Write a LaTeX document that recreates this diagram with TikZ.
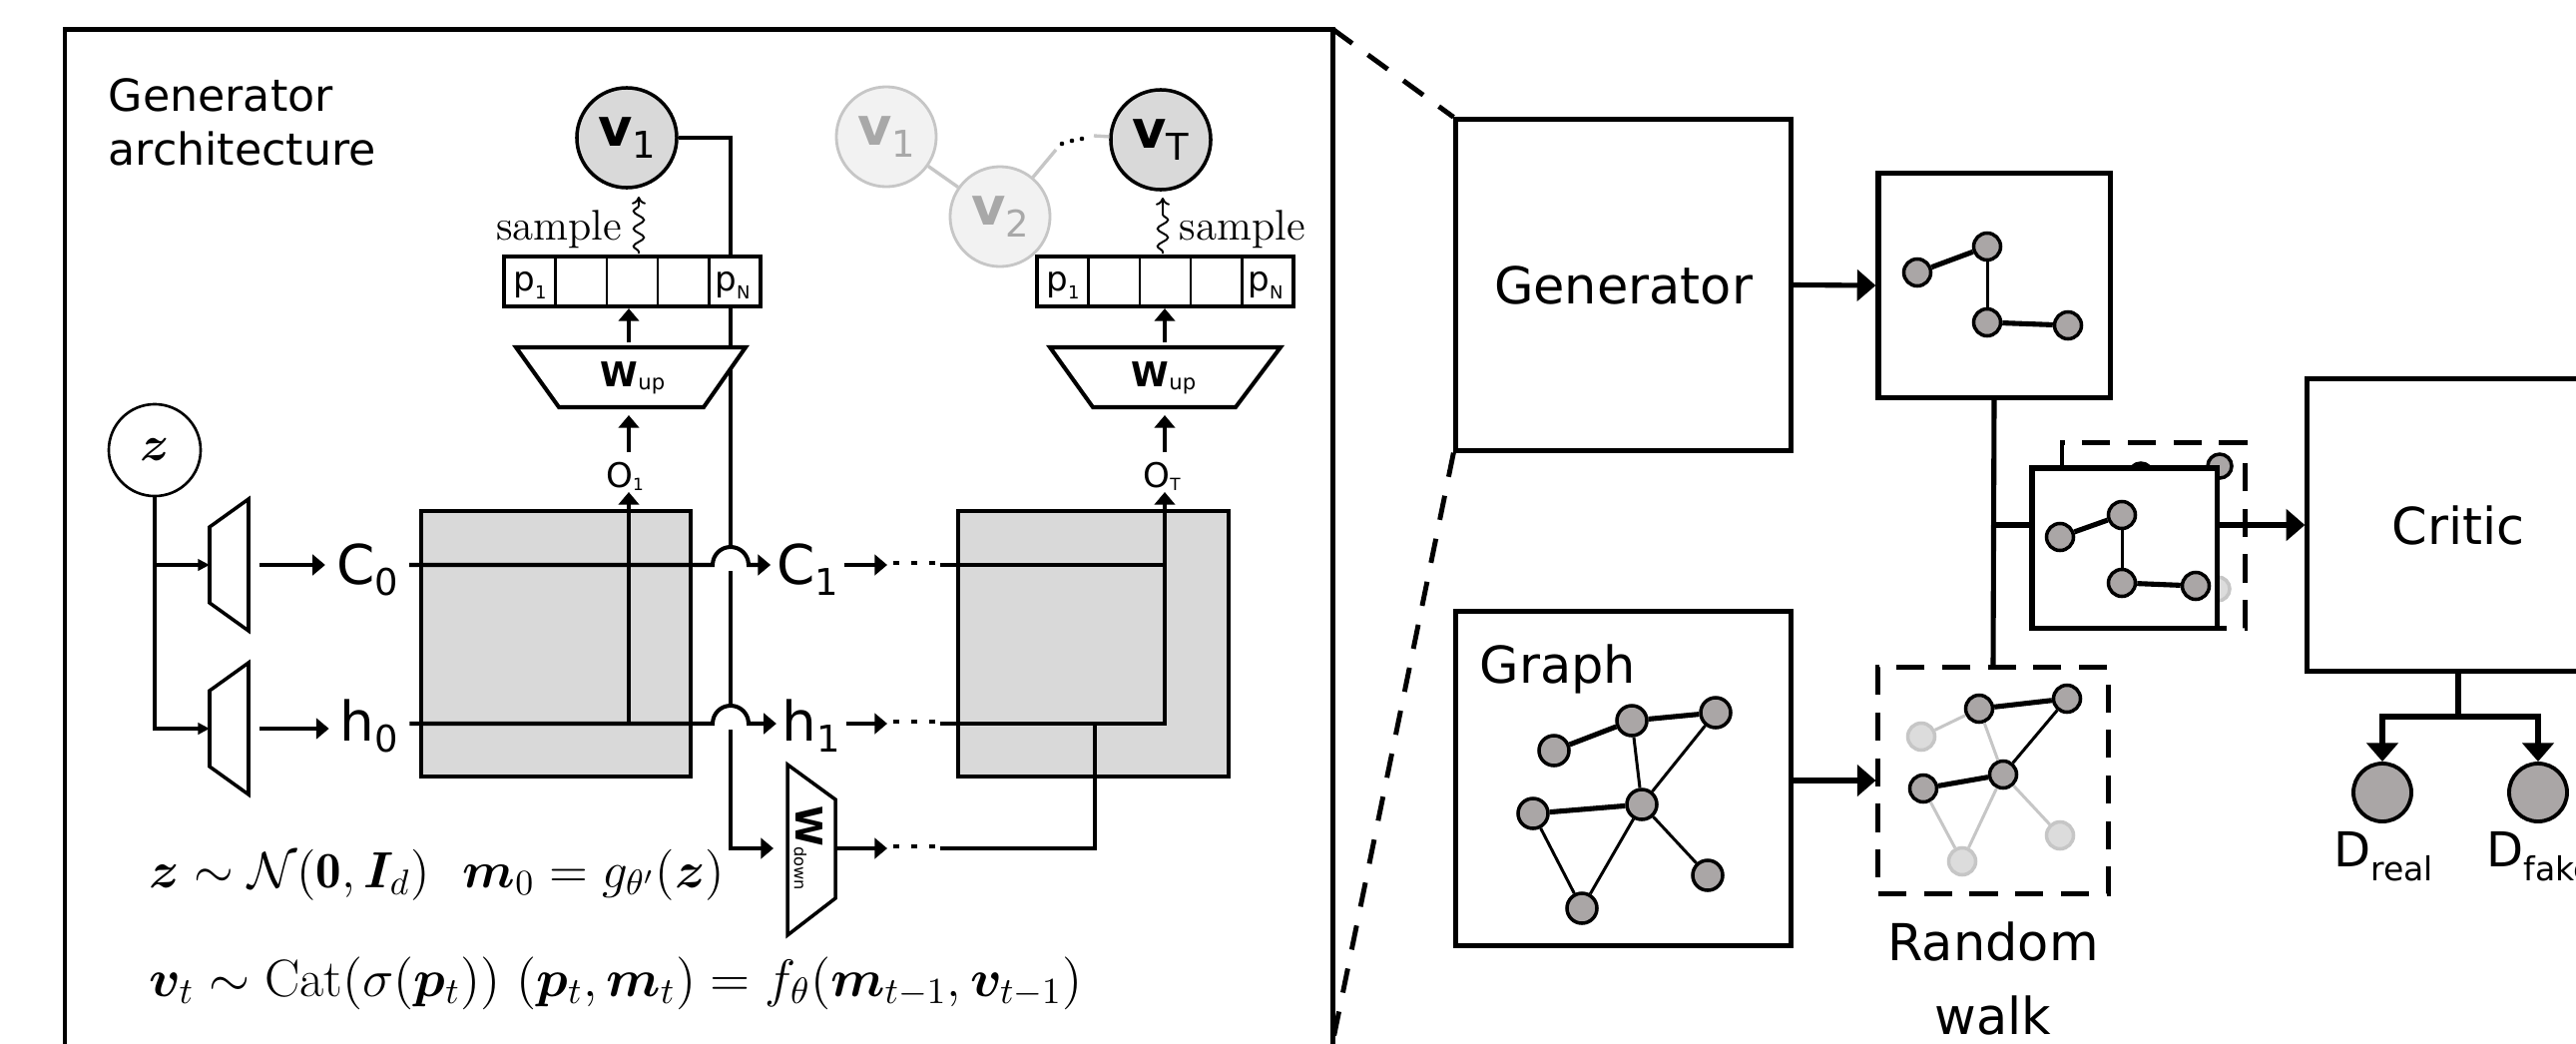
\RequirePackage{fix-cm}
\documentclass[tikz,border=0pt]{standalone}
\usepackage{amsmath}
\usepackage{bm}
\usepackage{fontspec}
\newfontfamily\dv{DejaVu Sans}
\usetikzlibrary{arrows.meta,decorations.pathmorphing}

\definecolor{cellgray}{RGB}{217,217,217}
\definecolor{dotgray}{RGB}{170,166,166}
\definecolor{paleline}{RGB}{198,198,198}
\definecolor{palefill}{RGB}{242,242,242}
\definecolor{paletext}{RGB}{168,168,168}
\definecolor{palenode}{RGB}{220,220,220}

% sans letter followed by a smaller, lowered subscript
\newcommand{\slbl}[5]{{\dv\fontsize{#1}{#1}\selectfont #2}{\dv\fontsize{#3}{#3}\selectfont\raisebox{-#5}{#4}}}

\begin{document}
\begin{tikzpicture}[x=0.01cm, y=-0.01cm,
  outerframe/.style={line width=1.42pt},
  wire/.style={line width=1.15pt},
  finewire/.style={line width=1pt},
  arr/.style={-{Triangle[length=3.6pt,width=5.8pt]}},
  smallarr/.style={-{Triangle[length=3.3pt,width=3.2pt]}},
  bigarr/.style={-{Triangle[length=5.3pt,width=8.8pt]}},
  dots3/.style={line width=1.15pt, dash pattern=on 1.7pt off 3.4pt},
  panel/.style={draw, line width=1.45pt, fill=white, inner sep=0pt},
  dpanel/.style={draw, line width=1.4pt, dash pattern=on 8pt off 5pt, inner sep=0pt},
  zoomline/.style={line width=1.4pt, dash pattern=on 7pt off 5.5pt},
  rlab/.style={font=\dv\fontsize{14.5pt}{17pt}\selectfont},
  vnode/.style={circle, draw, line width=1pt, fill=cellgray, minimum size=1cm, inner sep=0pt},
  palev/.style={circle, draw=paleline, line width=0.8pt, fill=palefill, minimum size=1cm, inner sep=0pt, text=paletext},
  gn/.style={circle, draw, line width=1pt, fill=dotgray, minimum size=0.27cm, inner sep=0pt},
  pn/.style={circle, draw=paleline, line width=1pt, fill=palenode, minimum size=0.27cm, inner sep=0pt},
  heavyedge/.style={line width=1.45pt},
  lightedge/.style={line width=0.85pt},
  paleedge/.style={line width=0.85pt, draw=paleline},
  snakearr/.style={line width=0.55pt, -{To[length=2.2pt,width=4pt]}, decorate,
    decoration={snake, amplitude=1.5pt, segment length=5pt, pre length=0.5pt, post length=2.5pt}},
  celllab/.style={anchor=base, inner sep=0pt},
]
\useasboundingbox (0,0) rectangle (2581,1045);
\clip (0,0) rectangle (2581,1045);
\fill[white] (0,0) rectangle (2581,1045);

% ================= generator architecture panel =================
\coordinate (fr-nw) at (65,29);
\coordinate (fr-ne) at (1335,29);
\coordinate (fr-se) at (1330,1070);
\draw[outerframe] (65,1100) -- (fr-nw) -- (fr-ne) -- (1335,1100);

\node[anchor=base west, inner sep=0pt, font=\dv\fontsize{12.6pt}{15pt}\selectfont] (ttl1) at (108,111) {Generator};
\node[anchor=base west, inner sep=0pt, font=\dv\fontsize{12.6pt}{15pt}\selectfont] (ttl2) at (108,165) {architecture};

% sampled walk nodes
\node[vnode] (v1) at (628,138) {\slbl{15pt}{\bfseries v}{10.5pt}{1}{3.4pt}};
\node[palev] (g1) at (888,137) {\slbl{15pt}{\bfseries v}{10.5pt}{1}{3.4pt}};
\node[palev] (g2) at (1002,217) {\slbl{15pt}{\bfseries v}{10.5pt}{2}{3.4pt}};
\node[vnode] (vT) at (1163,140) {\slbl{15pt}{\bfseries v}{10.5pt}{T}{3.4pt}};
\coordinate (gc1) at (1058,150);
\coordinate (gc2) at (1096,136);
\draw[line width=0.95pt, paleline] (g1) -- (g2);
\draw[line width=0.95pt, paleline] (g2) -- (gc1);
\draw[line width=0.95pt, paleline] (gc2) -- (vT);
\fill (1064,144) circle[radius=0.65pt];
\fill (1074,141) circle[radius=0.65pt];
\fill (1084,139) circle[radius=0.65pt];

% feedback of the sampled node into the next step
\coordinate (fbC) at (732,548);
\coordinate (fbC2) at (732,572);
\coordinate (fbH) at (732,707);
\coordinate (fbH2) at (732,731);
\coordinate (wdin) at (775,850);
\draw[finewire] (v1.east) -| (fbC);
\draw[finewire] (fbC2) -- (fbH);
\draw[finewire, arr] (fbH2) |- (wdin);

% LSTM cells
\node[draw, line width=1.15pt, fill=cellgray, minimum width=2.70cm, minimum height=2.66cm, inner sep=0pt] (cell1) at (557,645) {};
\node[draw, line width=1.15pt, fill=cellgray, minimum width=2.71cm, minimum height=2.66cm, inner sep=0pt] (cell2) at (1095.5,645) {};

% probability vectors
\node[draw, line width=1.15pt, fill=white, minimum width=2.57cm, minimum height=0.5cm, inner sep=0pt] (vec1) at (633.5,282) {};
\node[draw, line width=1.15pt, fill=white, minimum width=2.57cm, minimum height=0.5cm, inner sep=0pt] (vec2) at (1167.5,282) {};
\foreach \xx in {556.4,607.8,659.2,710.6} \draw[line width=0.7pt] (\xx,257) -- (\xx,307);
\foreach \xx in {1090.4,1141.8,1193.2,1244.6} \draw[line width=0.7pt] (\xx,257) -- (\xx,307);
\node[celllab] (p11) at (531,291) {\slbl{9.7pt}{p}{5.1pt}{1}{2.5pt}};
\node[celllab] (p1N) at (734,291) {\slbl{9.7pt}{p}{5.1pt}{N}{2.5pt}};
\node[celllab] (p21) at (1065,291) {\slbl{9.7pt}{p}{5.1pt}{1}{2.5pt}};
\node[celllab] (p2N) at (1268,291) {\slbl{9.7pt}{p}{5.1pt}{N}{2.5pt}};

% sampling
\coordinate (s1a) at (640,254);
\coordinate (s1b) at (640,197);
\coordinate (s2a) at (1165,254);
\coordinate (s2b) at (1165,198);
\draw[snakearr] (s1a) -- (s1b);
\draw[snakearr] (s2a) -- (s2b);
\node[anchor=base east, inner sep=0pt, font=\fontsize{12.2pt}{14pt}\selectfont] (smp1) at (624,240) {sample};
\node[anchor=base west, inner sep=0pt, font=\fontsize{12.2pt}{14pt}\selectfont] (smp2) at (1181,240) {sample};

% up-projections
\draw[wire, fill=white] (517,348) -- (747,348) -- (705,408) -- (560,408) -- cycle;
\draw[wire, fill=white] (1052,348) -- (1283,348) -- (1238,408) -- (1095,408) -- cycle;
\node[celllab] (wu1) at (634,387) {\slbl{9.7pt}{\bfseries W}{6pt}{up}{1pt}};
\node[celllab] (wu2) at (1166,387) {\slbl{9.7pt}{\bfseries W}{6pt}{up}{1pt}};
\coordinate (wu1t) at (630,343);
\coordinate (wu2t) at (1167,343);
\draw[wire, arr] (wu1t) -- (vec1.south -| wu1t);
\draw[wire, arr] (wu2t) -- (vec2.south -| wu2t);

% outputs
\node[anchor=base, inner sep=0.6pt] (o1) at (626,488) {\slbl{9.7pt}{O}{4.8pt}{1}{0.9pt}};
\node[anchor=base, inner sep=0.6pt] (oT) at (1164,488) {\slbl{9.7pt}{O}{4.8pt}{T}{0.9pt}};
\coordinate (o1t) at (630,453);
\coordinate (wu1b) at (630,416);
\coordinate (oTt) at (1167,453);
\coordinate (wu2b) at (1167,416);
\draw[wire, arr] (o1t) -- (wu1b);
\draw[wire, arr] (oTt) -- (wu2b);

% noise input and initial state
\node[circle, draw, line width=0.75pt, minimum size=0.92cm, inner sep=0pt] (z) at (155,451) {\fontsize{14pt}{14pt}\selectfont$\boldsymbol{z}$};
\draw[finewire, fill=white] (210,528) -- (249,500) -- (249,632) -- (210,604) -- cycle;
\draw[finewire, fill=white] (210,692) -- (249,664) -- (249,796) -- (210,768) -- cycle;
\coordinate (zc) at (155,566);
\coordinate (tcin) at (210,566);
\coordinate (hin) at (210,730);
\coordinate (tcout) at (260,566);
\coordinate (hout) at (260,730);
\draw[finewire, smallarr] (z.south) |- (hin);
\draw[finewire, smallarr] (zc) -- (tcin);

\node[anchor=base, inner sep=3pt] (c0) at (368,585) {\slbl{15.6pt}{C}{10.5pt}{0}{3.4pt}};
\node[anchor=base, inner sep=3pt] (h0) at (370,742) {\slbl{15.6pt}{h}{10.5pt}{0}{3.4pt}};
\node[anchor=base, inner sep=1.5pt] (c1) at (809,585) {\slbl{15.6pt}{C}{10.5pt}{1}{3.4pt}};
\node[anchor=base, inner sep=1.5pt] (h1) at (813,742) {\slbl{15.6pt}{h}{10.5pt}{1}{3.4pt}};
\draw[wire, arr] (tcout) -- (c0.west |- tcout);
\draw[wire, arr] (hout) -- (h0.west |- hout);

% state lines through the first cell, hopping over the feedback line
\coordinate (crow) at (400,566);
\coordinate (hrow) at (400,725);
\draw[wire, arr] (c0.east |- crow) -- (714,566) arc[start angle=180, end angle=360, radius=18] -- (c1.west |- crow);
\draw[wire, arr] (h0.east |- hrow) -- (714,725) arc[start angle=180, end angle=360, radius=18] -- (h1.west |- hrow);
\coordinate (h0o) at (630,725);
\coordinate (o1b) at (630,493);
\draw[finewire, arr] (h0o) -- (o1b);

% on to the last step
\coordinate (cd1) at (889,566);
\coordinate (hd1) at (889,725);
\draw[wire, arr] (c1.east |- crow) -- (cd1);
\draw[wire, arr] (h1.east |- hrow) -- (hd1);
\draw[dots3] (895,564) -- (937,564);
\draw[dots3] (895,723) -- (937,723);
\draw[dots3] (895,848) -- (937,848);
\coordinate (cc2) at (942,566);
\coordinate (cend) at (1167,566);
\coordinate (hc2) at (942,725);
\coordinate (oTb) at (1167,493);
\coordinate (wdc2) at (942,850);
\coordinate (hjoin) at (1097,725);
\draw[wire] (cc2) -- (cend);
\draw[wire, arr] (hc2) -| (oTb);
\draw[wire] (wdc2) -| (hjoin);

% down-projection
\draw[finewire, fill=white] (789,766) -- (837,801) -- (837,900) -- (789,937) -- cycle;
\node[rotate=-90, inner sep=0pt] (wdl) at (810,850) {\slbl{10.5pt}{\bfseries W}{4.6pt}{down}{0.5pt}};
\coordinate (wdout) at (837,850);
\coordinate (wdd) at (889,850);
\draw[wire, arr] (wdout) -- (wdd);

% model equations
\node[anchor=base west, inner sep=0pt] (eq1) at (149,889) {\fontsize{14.5pt}{17pt}\selectfont
  $\boldsymbol{z}\sim\mathcal{N}(\mathbf{0},\boldsymbol{I}_d)\ \ \boldsymbol{m}_0=g_{\theta'}(\boldsymbol{z})$};
\node[anchor=base west, inner sep=0pt] (eq2) at (149,998) {\fontsize{15pt}{17pt}\selectfont
  $\boldsymbol{v}_t\sim\mathrm{Cat}(\sigma(\boldsymbol{p}_t))\ (\boldsymbol{p}_t,\boldsymbol{m}_t)=f_\theta(\boldsymbol{m}_{t-1},\boldsymbol{v}_{t-1})$};

% ================= overview =================
\node[panel, rlab, minimum width=3.35cm, minimum height=3.31cm] (gen) at (1626.5,285.5) {Generator};
\draw[zoomline] (fr-ne) -- (gen.north west);
\draw[zoomline] (gen.south west) -- (fr-se);

\node[panel, minimum width=2.32cm, minimum height=2.24cm] (sg1) at (1998,286) {};
\node[gn] (s1a) at (1921,273) {};
\node[gn] (s1b) at (1991,247) {};
\node[gn] (s1c) at (1991,323) {};
\node[gn] (s1d) at (2072,326) {};
\draw[heavyedge] (s1a) -- (s1b);
\draw[lightedge] (s1b) -- (s1c);
\draw[heavyedge] (s1c) -- (s1d);

\node[panel, rlab, minimum width=3.02cm, minimum height=2.92cm] (critic) at (2463,526) {Critic};

% stacked samples: one behind, dashed
\node[dpanel, minimum width=1.83cm, minimum height=1.85cm] (sgd) at (2157.5,536.5) {};
\node[pn, minimum size=0.24cm] (ka) at (2093,501) {};
\node[gn, minimum size=0.24cm] (kb) at (2145,476) {};
\node[gn, minimum size=0.24cm] (kc) at (2224,467) {};
\node[gn, minimum size=0.24cm] (kd) at (2095,548) {};
\node[gn, minimum size=0.24cm] (ke) at (2167,535) {};
\node[pn, minimum size=0.24cm] (kf) at (2222,590) {};
\node[pn, minimum size=0.24cm] (kg) at (2130,614) {};
\draw[paleedge] (ka) -- (kb);
\draw[heavyedge] (kb) -- (kc);
\draw[lightedge] (kc) -- (ke);
\draw[heavyedge] (kd) -- (ke);
\draw[paleedge] (ke) -- (kf);

\node[panel, minimum width=1.85cm, minimum height=1.60cm] (sg2) at (2128.5,549) {};
\node[gn] (s2a) at (2064,538) {};
\node[gn] (s2b) at (2126,516) {};
\node[gn] (s2c) at (2126,584) {};
\node[gn] (s2d) at (2200,587) {};
\draw[heavyedge] (s2a) -- (s2b);
\draw[lightedge] (s2b) -- (s2c);
\draw[heavyedge] (s2c) -- (s2d);

% input graph
\node[panel, minimum width=3.35cm, minimum height=3.34cm] (graph) at (1626.5,780) {};
\node[anchor=base west, rlab, inner sep=0pt] (graphlbl) at (1482,684) {Graph};
\node[gn, minimum size=0.30cm] (ga) at (1557,752) {};
\node[gn, minimum size=0.30cm] (gb) at (1635,722) {};
\node[gn, minimum size=0.30cm] (gc) at (1719,714) {};
\node[gn, minimum size=0.30cm] (gd) at (1536,815) {};
\node[gn, minimum size=0.30cm] (ge) at (1645,806) {};
\node[gn, minimum size=0.30cm] (gf) at (1711,877) {};
\node[gn, minimum size=0.30cm] (gg) at (1585,910) {};
\draw[heavyedge] (ga) -- (gb);
\draw[heavyedge] (gb) -- (gc);
\draw[lightedge] (gb) -- (ge);
\draw[lightedge] (gc) -- (ge);
\draw[heavyedge] (gd) -- (ge);
\draw[lightedge] (gd) -- (gg);
\draw[lightedge] (ge) -- (gg);
\draw[lightedge] (ge) -- (gf);

% random walk on the graph
\node[dpanel, minimum width=2.30cm, minimum height=2.26cm] (rw) at (1997,782) {};
\node[pn] (ra) at (1925,738) {};
\node[gn] (rb) at (1983,710) {};
\node[gn] (rc) at (2071,700) {};
\node[gn] (rd) at (1927,790) {};
\node[gn] (re) at (2007,776) {};
\node[pn] (rf) at (2064,837) {};
\node[pn] (rg) at (1966,863) {};
\draw[paleedge] (ra) -- (rb);
\draw[heavyedge] (rb) -- (rc);
\draw[paleedge] (rb) -- (re);
\draw[lightedge] (rc) -- (re);
\draw[heavyedge] (rd) -- (re);
\draw[paleedge] (rd) -- (rg);
\draw[paleedge] (re) -- (rg);
\draw[paleedge] (re) -- (rf);
\node[anchor=base, rlab, inner sep=0pt] (rwl1) at (1997,962) {Random};
\node[anchor=base, rlab, inner sep=0pt] (rwl2) at (1997,1036) {walk};

% connections
\draw[heavyedge, bigarr] (gen.east) -- (sg1.west);
\draw[heavyedge, bigarr] (graph.east |- rw.west) -- (rw.west);
\draw[heavyedge] (sg1.south) -- (rw.north);
\coordinate (jn) at (sg1.south |- critic.west);
\draw[heavyedge] (jn) -- (sg2.west |- jn);
\draw[heavyedge, bigarr] (sg2.east |- critic.west) -- (critic.west);

% critic outputs
\node[gn, minimum size=0.58cm, line width=1.1pt] (dreal) at (2387,794) {};
\node[gn, minimum size=0.58cm, line width=1.1pt] (dfake) at (2543,794) {};
\coordinate (cj) at (2463,718);
\draw[heavyedge] (critic.south) -- (cj);
\draw[heavyedge, bigarr] (cj) -| (dreal.north);
\draw[heavyedge, bigarr] (cj) -| (dfake.north);
\node[celllab] (lreal) at (2388,868) {\slbl{13.7pt}{D}{9.4pt}{real}{4pt}};
\node[celllab] (lfake) at (2545,868) {\slbl{13.7pt}{D}{9.4pt}{fake}{4pt}};
\end{tikzpicture}
\end{document}
